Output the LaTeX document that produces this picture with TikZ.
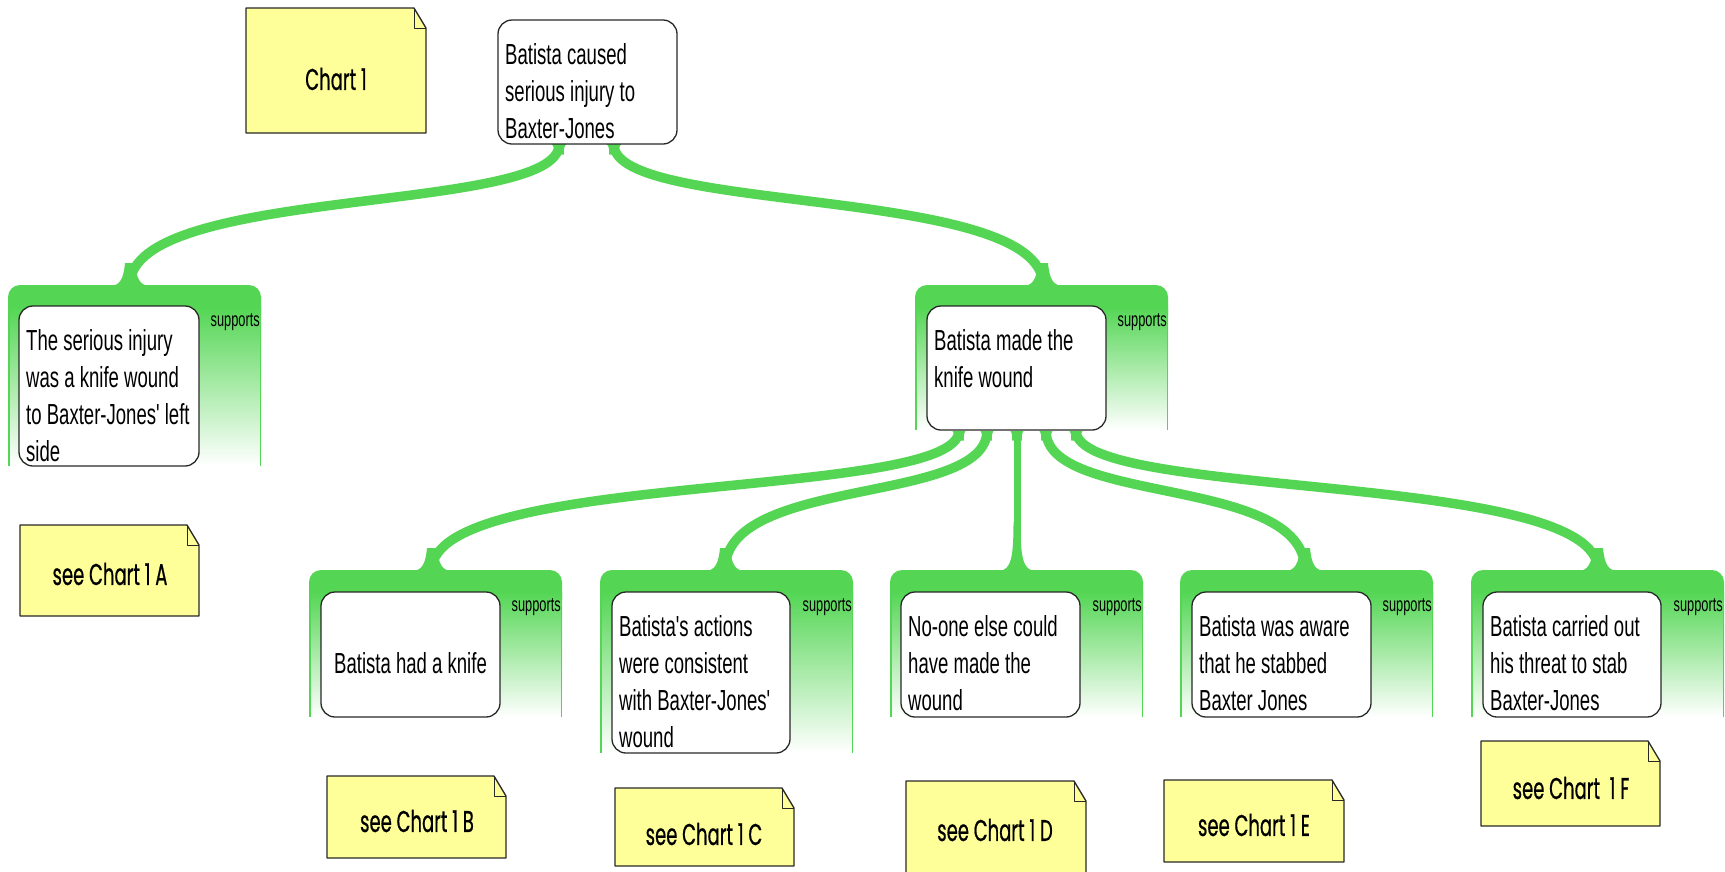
\documentclass[tikz,border=0pt]{standalone}
\usepackage{fontspec}
\setmainfont{Liberation Sans}
\newfontfamily\claimfont{Liberation Sans}[FakeStretch=0.64]
\newfontfamily\notefont{Poppins}[FakeStretch=0.6, FakeBold=0.6]
\pgfdeclarelayer{background}
\pgfsetlayers{background,main}
\definecolor{linkgreen}{RGB}{84,214,84}
\definecolor{noteyellow}{RGB}{255,255,153}
\definecolor{boxline}{RGB}{40,40,40}

\tikzset{
  claimbox/.style={draw=boxline, line width=1.3pt, fill=white, rounded corners=14pt,
    minimum width=179pt, inner sep=0pt},
  claimtext/.style={font=\claimfont\fontsize{29}{37}\selectfont, align=left,
    inner sep=0pt, anchor=north west},
  relation/.style={font=\claimfont\fontsize{20}{24}\selectfont, inner sep=0pt, anchor=east},
  notetext/.style={font=\notefont\fontsize{30}{36}\selectfont, inner sep=0pt},
  link/.style={draw=linkgreen, line width=9.5pt},
  childflare/.pic={\fill[linkgreen] (-19,1) .. controls (-10,0) and (-6.5,-6) .. (-5,-22)
    -- (5,-22) .. controls (6.5,-6) and (10,0) .. (19,1) -- cycle;},
  stemflare/.pic={\fill[linkgreen] (-18,1) .. controls (-6,0) and (-3.5,-12) .. (-3.5,-48)
    -- (3.5,-48) .. controls (3.5,-12) and (6,0) .. (18,1) -- cycle;},
  parentflare/.pic={\fill[linkgreen] (-8,-1) .. controls (-5,1) and (-4.75,4) .. (-4.75,10)
    -- (4.75,10) .. controls (4.75,4) and (5,1) .. (8,-1) -- cycle;},
}

% green "supports" frame: left x, top y, bottom y
\newcommand\supframe[3]{%
  \fill[linkgreen] (#1,#2+30) [rounded corners=12pt] -- (#1,#2) -- (#1+253,#2)
    [sharp corners] -- (#1+253,#2+30) -- cycle;
  \shade[top color=linkgreen, bottom color=white] (#1,#2+22) rectangle (#1+253,#3);
  \draw[linkgreen, line width=1.5pt] (#1+0.75,#2+12) -- (#1+0.75,#3)
    (#1+252.25,#2+12) -- (#1+252.25,#3);
}
% sticky note with folded corner: x1, y1, x2, y2
\newcommand\notepad[4]{%
  \filldraw[fill=noteyellow, draw=boxline, line width=1.3pt, line join=round]
    (#1,#2) -- (#3-12,#2) -- (#3,#2+20) -- (#3,#4) -- (#1,#4) -- cycle;
  \draw[boxline, line width=1pt, line join=round] (#3-12,#2) -- (#3-12,#2+20) -- (#3,#2+20);
}

\begin{document}
\begin{tikzpicture}[x=1pt, y=-1pt]
\useasboundingbox (0,0) rectangle (1725,871);

% claim boxes
\node[claimbox, minimum height=124pt] (n0) at (587.5,82) {};
\node[claimbox, minimum height=160pt, minimum width=180pt] (nL) at (109,386) {};
\node[claimbox, minimum height=124pt] (nM) at (1016.5,368) {};
\node[claimbox, minimum height=125pt] (nB) at (410.5,654.5) {};
\node[claimbox, minimum height=161pt, minimum width=178pt] (nC) at (701,672.5) {};
\node[claimbox, minimum height=125pt] (nD) at (990.5,654.5) {};
\node[claimbox, minimum height=125pt] (nE) at (1281.5,654.5) {};
\node[claimbox, minimum height=125pt, minimum width=178pt] (nF) at (1572,654.5) {};

% claim texts
\node[claimtext] (t0) at (505,43) {Batista caused\\serious injury to\\Baxter-Jones};
\node[claimtext] (tL) at (26,329) {The serious injury\\was a knife wound\\to Baxter-Jones' left\\side};
\node[claimtext] (tM) at (934,329) {Batista made the\\knife wound};
\node[claimtext, anchor=base] (tB) at (410.5,673) {Batista had a knife};
\node[claimtext] (tC) at (619,615) {Batista's actions\\were consistent\\with Baxter-Jones'\\wound};
\node[claimtext] (tD) at (908,615) {No-one else could\\have made the\\wound};
\node[claimtext] (tE) at (1199,615) {Batista was aware\\that he stabbed\\Baxter Jones};
\node[claimtext] (tF) at (1490,615) {Batista carried out\\his threat to stab\\Baxter-Jones};

% relation labels
\node[relation] (sL) at (260,322) {supports};
\node[relation] (sM) at (1167,322) {supports};
\node[relation] (sB) at (561,607) {supports};
\node[relation] (sC) at (852,607) {supports};
\node[relation] (sD) at (1142,607) {supports};
\node[relation] (sE) at (1432,607) {supports};
\node[relation] (sF) at (1723,607) {supports};

% connector ends on the frames
\coordinate (cL) at (130,285);
\coordinate (cM) at (1043,285);
\coordinate (cB) at (432,570);
\coordinate (cC) at (725,570);
\coordinate (cD) at (1017,570);
\coordinate (cE) at (1305,570);
\coordinate (cF) at (1598,570);

% notes
\notepad{246}{8}{426}{133}
\node[notetext] (k0) at (336,79) {Chart 1};
\notepad{20}{525}{199}{616}
\node[notetext] (kA) at (110,574) {see Chart 1 A};
\notepad{327}{776}{506}{858}
\node[notetext] (kB) at (417,821) {see Chart 1 B};
\notepad{615}{788}{794}{866}
\node[notetext] (kC) at (704,834) {see Chart 1 C};
\notepad{906}{781}{1086}{885}
\node[notetext] (kD) at (995,830) {see Chart 1 D};
\notepad{1164}{780}{1344}{862}
\node[notetext] (kE) at (1254,825) {see Chart 1 E};
\notepad{1481}{741}{1660}{826}
\node[notetext] (kF) at (1571,788) {see Chart~~1 F};

\begin{pgfonlayer}{background}
  \fill[white] (0,0) rectangle (1725,871);
  % connectors
  \draw[link] ([xshift=-28.5pt]n0.south) .. controls +(0,70) and +(0,-100) .. (cL);
  \draw[link] ([xshift=26.5pt]n0.south) .. controls +(0,70) and +(0,-100) .. (cM);
  \draw[link] ([xshift=-57.5pt]nM.south) .. controls +(0,70) and +(0,-100) .. (cB);
  \draw[link] ([xshift=-29.5pt]nM.south) .. controls +(0,75) and +(0,-95) .. (cC);
  \draw[link, line width=7pt] ([xshift=0.5pt]nM.south) -- (cD);
  \draw[link] ([xshift=29.5pt]nM.south) .. controls +(0,75) and +(0,-95) .. (cE);
  \draw[link] ([xshift=59.5pt]nM.south) .. controls +(0,70) and +(0,-100) .. (cF);
  \path ([xshift=-28.5pt]n0.south) pic {parentflare}
        ([xshift=26.5pt]n0.south) pic {parentflare}
        ([xshift=-57.5pt]nM.south) pic {parentflare}
        ([xshift=-29.5pt]nM.south) pic {parentflare}
        ([xshift=0.5pt]nM.south) pic {parentflare}
        ([xshift=29.5pt]nM.south) pic {parentflare}
        ([xshift=59.5pt]nM.south) pic {parentflare};
  \path (cL) pic {childflare} (cM) pic {childflare} (cB) pic {childflare}
        (cC) pic {childflare} (cE) pic {childflare} (cF) pic {childflare}
        (cD) pic {stemflare};
  % frames
  \supframe{8}{285}{466}
  \supframe{915}{285}{430}
  \supframe{309}{570}{717}
  \supframe{600}{570}{753}
  \supframe{890}{570}{717}
  \supframe{1180}{570}{717}
  \supframe{1471}{570}{717}
\end{pgfonlayer}
\end{tikzpicture}
\end{document}
